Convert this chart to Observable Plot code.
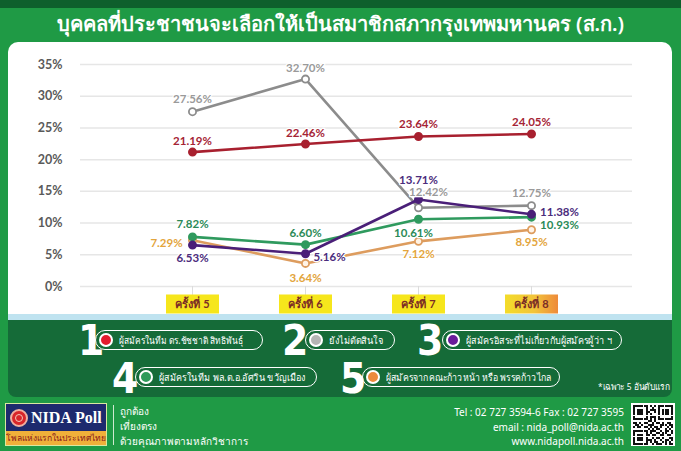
<!DOCTYPE html>
<html><head><meta charset="utf-8">
<script src="https://cdn.jsdelivr.net/npm/d3@7"></script>
<script src="https://cdn.jsdelivr.net/npm/@observablehq/plot@0.6"></script>
<style>
body{margin:0;background:#1f9a45;}
#page{position:relative;width:681px;height:451px;background:#1f9a45;overflow:hidden;font-family:"Noto Sans",Lato,sans-serif;}
#topband{position:absolute;left:0;top:0;width:681px;height:8px;background:#0e5f2c;}
#title{position:absolute;left:0;top:8px;width:681px;height:34px;line-height:32px;text-align:center;color:#fff;font-size:20px;font-weight:600;}
#panel{position:absolute;left:8px;top:42px;width:664px;height:278px;background:#fff;border-radius:10px 10px 0 0;}
#strip{position:absolute;left:8px;top:314px;width:664px;height:6px;background:#bfe3f0;}
#chart{position:absolute;left:0;top:42px;}
#legend{position:absolute;left:8px;top:320px;width:664px;height:77px;background:#156b38;border-radius:0 0 8px 8px;}
.num{position:absolute;color:#fff;font-family:"Liberation Sans Narrow","DejaVu Sans Condensed",sans-serif;font-weight:bold;font-size:42px;line-height:30px;}
.pill{position:absolute;height:18px;border:1.5px solid #fff;border-radius:11px;display:flex;align-items:center;color:#fff;font-size:10px;white-space:nowrap;overflow:visible;}
.dot{flex:none;display:inline-block;width:10px;height:10px;border-radius:50%;border:2px solid #fff;margin-left:3px;margin-right:6px;}
.ptxt{display:inline-block;transform-origin:left center;}
.note{position:absolute;color:#fff;font-size:9.5px;white-space:nowrap;transform:scaleX(0.88);transform-origin:left center;}
.ft{position:absolute;color:#fff;font-size:10px;white-space:nowrap;}
</style></head><body>
<div id="page">
 <div id="topband"></div>
 <div id="title"></div>
 <div id="panel"></div>
 <div id="strip"></div>
 <div id="chart"></div>
 <div id="legend"></div>
 <div id="footer"></div>
</div>
<script>
const titleText = "บุคคลที่ประชาชนจะเลือกให้เป็นสมาชิกสภากรุงเทพมหานคร (ส.ก.)";
const rounds = ["ครั้งที่ 5", "ครั้งที่ 6", "ครั้งที่ 7", "ครั้งที่ 8"];
const seriesNames = [
  "ผู้สมัครในทีม ดร.ชัชชาติ สิทธิพันธุ์",
  "ยังไม่ตัดสินใจ",
  "ผู้สมัครอิสระที่ไม่เกี่ยวกับผู้สมัครผู้ว่า ฯ",
  "ผู้สมัครในทีม พล.ต.อ.อัศวิน ขวัญเมือง",
  "ผู้สมัครจากคณะก้าวหน้า หรือ พรรคก้าวไกล"
];
const chadchartTeam = [21.19, 22.46, 23.64, 24.05];
const undecided = [27.56, 32.70, 12.42, 12.75];
const independent = [6.53, 5.16, 13.71, 11.38];
const aswinTeam = [7.82, 6.60, 10.61, 10.93];
const progressive = [7.29, 3.64, 7.12, 8.95];
const yTicks = [0, 5, 10, 15, 20, 25, 30, 35];
const noteText = "*เฉพาะ 5 อันดับแรก";

// styles (not data)
const lineColors = ["#a8202f", "#8c8c8c", "#4a1f78", "#2f9a5e", "#dd9c5e"];
const labelColors = ["#a52435", "#9a9a9a", "#4b2c7c", "#2b8a57", "#e3a53c"];
const dotFills = ["#a8202f", "#ffffff", "#4a1f78", "#2f9a5e", "#fff3e6"];
const legendDots = ["#e31b2e", "#b5b5b5", "#6a1b9a", "#2e9a5a", "#ec8a3c"];
const labelOffsets = [
  [[0,-11],[0,-11],[0,-12],[0,-12]],
  [[0,-12],[0,-11],[10,-15],[0,-12]],
  [[0,13],[24,4],[0,-19],[28,-2]],
  [[0,-13],[0,-11],[-5,14],[28,8]],
  [[-26,3],[0,15],[0,13],[0,13]]
];

document.getElementById("title").textContent = titleText;

const allSeries = [chadchartTeam, undecided, independent, aswinTeam, progressive];
const rows = allSeries.map((vals, si) => vals.map((v, ri) => ({si, round: rounds[ri], ri, value: v})));

const boxSymbol = {draw(ctx) {ctx.moveTo(-26.5,-9.5);ctx.lineTo(26.5,-9.5);ctx.lineTo(26.5,9.5);ctx.lineTo(-26.5,9.5);ctx.closePath();}};

const marks = [
  Plot.ruleY(yTicks, {y: d => d, stroke: "#e6e6e6", strokeWidth: 1.5}),
  Plot.ruleX(rounds, {x: d => d, y1: 0, y2: -1.4, stroke: "#dcdcdc"}),
  Plot.text(yTicks, {y: d => d, text: d => d + "%", frameAnchor: "left", dx: -18, textAnchor: "end", fill: "#5a5a5a", fontSize: 12.5, fontWeight: "bold"}),
  Plot.dot(rounds.slice(0, 3), {x: d => d, y: 0, dy: 17.5, symbol: boxSymbol, fill: "#f6e61c", stroke: "none"}),
  Plot.dot(rounds.slice(3), {x: d => d, y: 0, dy: 17.5, symbol: boxSymbol, fill: "url(#boxgrad)", stroke: "none"}),
  Plot.text(rounds, {x: d => d, y: 0, dy: 17.5, text: d => d, fill: "#7b2d26", fontSize: 11, fontWeight: "bold"})
];
const order = [1, 0, 4, 3, 2];
for (const si of order) {
  marks.push(Plot.line(rows[si], {x: "round", y: "value", stroke: lineColors[si], strokeWidth: 2.6}));
}
for (const si of order) {
  marks.push(Plot.dot(rows[si], {x: "round", y: "value", r: 3.6, fill: dotFills[si], stroke: lineColors[si], strokeWidth: 1.8}));
}
for (const si of order) {
  rows[si].forEach((row, ri) => {
    const [dx, dy] = labelOffsets[si][ri];
    marks.push(Plot.text([row], {x: "round", y: "value", text: d => d.value.toFixed(2) + "%", dx, dy,
      fill: labelColors[si], fontSize: 11.5, fontWeight: "bold", stroke: "white", strokeWidth: 2.5, paintOrder: "stroke"}));
  });
}

const plot = Plot.plot({
  width: 681, height: 276,
  marginTop: 22, marginBottom: 32, marginLeft: 80, marginRight: 49,
  style: {background: "transparent", fontFamily: "Lato, 'Noto Sans', sans-serif", overflow: "visible"},
  x: {type: "point", domain: rounds, range: [134, 589], axis: null},
  y: {domain: [0, 35], axis: null},
  marks
});
const defs = d3.select(plot).insert("defs", ":first-child");
const g = defs.append("linearGradient").attr("id", "boxgrad");
g.append("stop").attr("offset", "0%").attr("stop-color", "#f3dc2a");
g.append("stop").attr("offset", "55%").attr("stop-color", "#f2c43a");
g.append("stop").attr("offset", "100%").attr("stop-color", "#ee8a3a");
document.getElementById("chart").appendChild(plot);

// legend
const legend = document.getElementById("legend");
const items = [
  {n: "1", nx: 70, ny: 6, px: 87, py: 10, w: 166, s: 0.84},
  {n: "2", nx: 274, ny: 6, px: 297, py: 10, w: 88, s: 0.92},
  {n: "3", nx: 409, ny: 6, px: 434, py: 10, w: 178, s: 0.9},
  {n: "4", nx: 104, ny: 44, px: 127, py: 47, w: 180, s: 0.9},
  {n: "5", nx: 332, ny: 44, px: 354, py: 47, w: 196, s: 0.87}
];
items.forEach((it, i) => {
  const n = document.createElement("div");
  n.className = "num"; n.textContent = it.n;
  n.style.left = it.nx + "px"; n.style.top = it.ny + "px";
  legend.appendChild(n);
  const p = document.createElement("div");
  p.className = "pill";
  p.style.left = it.px + "px"; p.style.top = it.py + "px"; p.style.width = it.w + "px";
  const d = document.createElement("span");
  d.className = "dot"; d.style.background = legendDots[i];
  p.appendChild(d);
  const t = document.createElement("span");
  t.className = "ptxt"; t.textContent = seriesNames[i];
  t.style.transform = `scaleX(${it.s})`;
  p.appendChild(t);
  legend.appendChild(p);
});
const note = document.createElement("div");
note.className = "note"; note.textContent = noteText;
note.style.left = "590px"; note.style.top = "59px";
legend.appendChild(note);

// footer
const footer = document.getElementById("footer");
footer.innerHTML = `
<div style="position:absolute;left:5px;top:403px;width:102px;height:43px;border:1px solid #d9e8a0;box-sizing:border-box;background:#1d2a6e;">
  <div style="position:absolute;left:4px;top:5px;width:18px;height:18px;border-radius:50%;background:#d9262a;border:2px solid #f0b0a0;box-sizing:border-box;"></div>
  <div style="position:absolute;left:9px;top:10px;width:8px;height:8px;border-radius:50%;border:1.5px solid #f6c8b8;box-sizing:border-box;"></div>
  <div style="position:absolute;left:25px;top:3px;color:#fff;font-family:'Liberation Serif',serif;font-weight:bold;font-size:16px;line-height:22px;white-space:nowrap;">NIDA Poll</div>
  <div style="position:absolute;left:0;top:27px;width:100px;height:14px;background:#f0b03a;color:#8a1a1a;font-size:8.5px;line-height:14px;text-align:center;white-space:nowrap;overflow:hidden;">โพลแห่งแรกในประเทศไทย</div>
</div>
<div style="position:absolute;left:113px;top:405px;width:1px;height:40px;background:#cfe9cf;"></div>
<div class="ft" style="left:120px;top:404px;">ถูกต้อง</div>
<div class="ft" style="left:120px;top:419px;">เที่ยงตรง</div>
<div class="ft" style="left:120px;top:434px;">ด้วยคุณภาพตามหลักวิชาการ</div>
<div class="ft" style="right:57px;top:405px;text-align:right;">Tel : 02 727 3594-6 Fax : 02 727 3595</div>
<div class="ft" style="right:57px;top:420px;text-align:right;">email : nida_poll@nida.ac.th</div>
<div class="ft" style="right:57px;top:434px;text-align:right;">www.nidapoll.nida.ac.th</div>
<div id="qr" style="position:absolute;left:631px;top:403px;width:44px;height:43px;background:#fff;"></div>
`;
const qrPattern = [
  "1111111010101111111",
  "1000001001001000001",
  "1011101011101011101",
  "1011101100101011101",
  "1011101010001011101",
  "1000001011101000001",
  "1111111010101111111",
  "0000000110100000000",
  "1101011001011010110",
  "0110100111000111011",
  "1011011010110100101",
  "0000000101011001010",
  "1111111011100101101",
  "1000001010011011001",
  "1011101101100110110",
  "1011101001011010011",
  "1011101110100101101",
  "1000001010110011010",
  "1111111001011101011"
];
const qr = document.getElementById("qr");
const cell = 2.1;
qrPattern.forEach((rowStr, r) => [...rowStr].forEach((c, k) => {
  if (c === "1") {
    const b = document.createElement("div");
    b.style.cssText = `position:absolute;left:${2 + k * cell}px;top:${2 + r * cell}px;width:${cell}px;height:${cell}px;background:#111;`;
    qr.appendChild(b);
  }
}));
</script>
</body></html>
